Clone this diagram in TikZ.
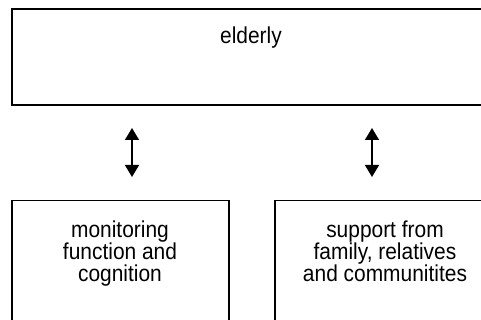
\documentclass[tikz,border=0pt]{standalone}
\usepackage{fontspec}
\setmainfont{Liberation Sans}
\usetikzlibrary{arrows.meta}
\begin{document}
\begin{tikzpicture}[x=1pt,y=-1pt,
  box/.style={draw=black, line width=1.8pt, fill=none, inner sep=0pt},
  txt/.style={align=center, font=\fontsize{23}{22}\selectfont, xscale=0.91, transform shape, inner sep=0pt, anchor=base},
  link/.style={line width=1.5pt, {Triangle[length=12pt,width=14pt]}-{Triangle[length=12pt,width=14pt]}}]
\useasboundingbox (0,0) rectangle (481,320);
\clip (0,0) rectangle (481,320);
\fill[white] (0,0) rectangle (481,320);
\node[box, minimum width=481pt, minimum height=96pt] (top) at (252.5,57) {};
\node[box, minimum width=217pt, minimum height=121pt] (left) at (120.5,261) {};
\node[box, minimum width=218pt, minimum height=121pt] (right) at (384,261) {};
\node[txt] (toptxt) at (251,44) {elderly};
\node[txt] (lefttxt) at (120,281) {monitoring\\function and\\cognition};
\node[txt] (righttxt) at (385,281) {support from\\family, relatives\\and communitites};
\coordinate (la1) at (132,128);
\coordinate (la2) at (132,177);
\coordinate (ra1) at (372,128);
\coordinate (ra2) at (372,177);
\draw[link] (la1) -- (la2);
\draw[link] (ra1) -- (ra2);
\end{tikzpicture}
\end{document}
